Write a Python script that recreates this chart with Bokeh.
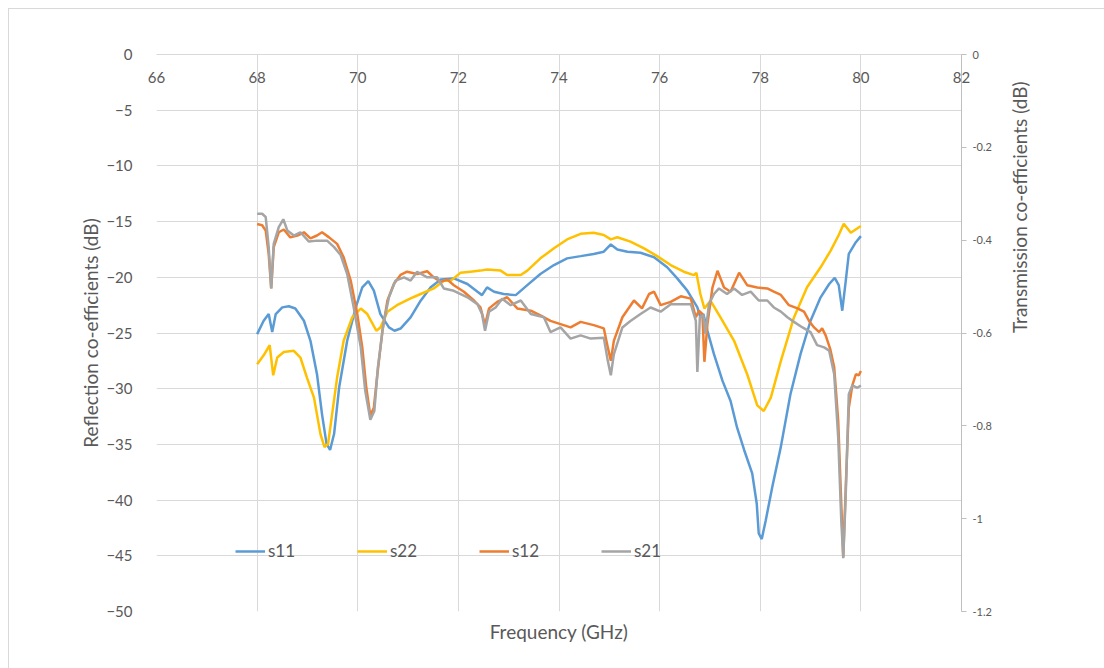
import math
from bokeh.plotting import figure
from bokeh.models import LinearAxis, Range1d, FixedTicker, Legend, LegendItem
from bokeh.embed import file_html
from bokeh.resources import INLINE

# ---------------- data ----------------
x_ticks = [66, 68, 70, 72, 74, 76, 78, 80, 82]
left_ticks = [-50, -45, -40, -35, -30, -25, -20, -15, -10, -5, 0]
right_ticks = [-1.2, -1.0, -0.8, -0.6, -0.4, -0.2, 0.0]
right_tick_labels = ["-1.2", "-1", "-0.8", "-0.6", "-0.4", "-0.2", "0"]

f_s11 = [68.00, 68.13, 68.23, 68.30, 68.37, 68.50, 68.63, 68.76, 68.93, 69.06,
         69.19, 69.29, 69.38, 69.45, 69.53, 69.63, 69.79, 69.96, 70.09, 70.21,
         70.32, 70.45, 70.62, 70.73, 70.85, 71.05, 71.25, 71.45, 71.65, 71.91,
         72.18, 72.38, 72.47, 72.57, 72.71, 72.90, 73.14, 73.37, 73.63, 73.90,
         74.16, 74.43, 74.69, 74.89, 75.03, 75.16, 75.36, 75.62, 75.89, 76.15,
         76.35, 76.55, 76.75, 76.81, 76.87, 76.95, 77.08, 77.25, 77.41, 77.54,
         77.68, 77.84, 77.93, 77.97, 78.03, 78.11, 78.24, 78.41, 78.60, 78.80,
         79.00, 79.20, 79.37, 79.48, 79.56, 79.63, 79.70, 79.76, 79.90, 80.00]
s11 = [-25.1, -23.9, -23.3, -24.9, -23.3, -22.7, -22.6, -22.8, -23.9, -25.7,
       -28.7, -32.3, -34.95, -35.5, -34.05, -29.9, -25.7, -22.7, -20.9, -20.35,
       -21.2, -23.3, -24.5, -24.8, -24.6, -23.6, -22.1, -20.9, -20.2, -20.1,
       -20.6, -21.3, -21.6, -20.9, -21.3, -21.5, -21.6, -20.7, -19.7, -18.9,
       -18.3, -18.1, -17.9, -17.7, -17.05, -17.5, -17.7, -17.8, -18.2, -19.1,
       -20.1, -21.2, -22.7, -23.6, -23.3, -24.8, -26.9, -29.3, -31.1, -33.5,
       -35.5, -37.6, -40.3, -43.0, -43.5, -41.8, -38.8, -35.2, -30.5, -26.9,
       -23.9, -21.8, -20.6, -20.05, -20.7, -23.0, -20.3, -17.9, -16.85, -16.3]

f_s22 = [68.00, 68.13, 68.25, 68.32, 68.40, 68.53, 68.73, 68.86, 68.99, 69.13,
         69.26, 69.34, 69.41, 69.49, 69.59, 69.72, 69.89, 70.06, 70.19, 70.37,
         70.45, 70.59, 70.78, 71.05, 71.25, 71.51, 71.71, 71.85, 72.04, 72.24,
         72.44, 72.57, 72.84, 72.97, 73.24, 73.37, 73.63, 73.90, 74.16, 74.43,
         74.69, 74.89, 75.03, 75.16, 75.42, 75.69, 75.95, 76.22, 76.48, 76.68,
         76.73, 76.81, 76.89, 77.01, 77.21, 77.48, 77.74, 77.94, 78.07, 78.21,
         78.41, 78.67, 78.93, 79.20, 79.40, 79.56, 79.66, 79.80, 80.00]
s22 = [-27.8, -27.0, -26.1, -28.8, -27.2, -26.7, -26.6, -27.2, -29.0, -30.8,
       -34.1, -35.25, -34.95, -32.3, -29.0, -25.7, -23.6, -22.8, -23.3, -24.8,
       -24.5, -23.1, -22.5, -21.9, -21.5, -21.0, -20.3, -20.3, -19.6, -19.5,
       -19.4, -19.3, -19.4, -19.8, -19.8, -19.4, -18.3, -17.4, -16.6, -16.1,
       -16.0, -16.2, -16.6, -16.4, -16.8, -17.4, -18.1, -18.9, -19.5, -19.8,
       -19.6, -21.5, -22.8, -22.1, -23.6, -25.7, -28.7, -31.5, -32.0, -30.8,
       -27.5, -23.6, -20.9, -19.1, -17.6, -16.2, -15.2, -16.0, -15.4]

f_s12 = [68.00, 68.10, 68.17, 68.23, 68.28, 68.33, 68.43, 68.53, 68.66, 68.80,
         68.93, 69.06, 69.19, 69.29, 69.43, 69.59, 69.72, 69.86, 69.99, 70.09,
         70.17, 70.25, 70.32, 70.39, 70.49, 70.59, 70.72, 70.85, 70.98, 71.18,
         71.38, 71.51, 71.65, 71.78, 71.91, 72.11, 72.31, 72.44, 72.53, 72.61,
         72.77, 72.97, 73.17, 73.44, 73.63, 73.83, 74.03, 74.23, 74.43, 74.69,
         74.89, 74.97, 75.03, 75.09, 75.26, 75.49, 75.65, 75.79, 75.89, 76.02,
         76.22, 76.42, 76.62, 76.72, 76.78, 76.85, 76.89, 76.95, 77.05, 77.15,
         77.28, 77.41, 77.58, 77.74, 77.94, 78.14, 78.27, 78.41, 78.57, 78.74,
         78.87, 78.97, 79.07, 79.17, 79.23, 79.30, 79.39, 79.47, 79.55, 79.61,
         79.65, 79.70, 79.76, 79.83, 79.90, 79.96, 80.00]
s12 = [-0.365, -0.368, -0.379, -0.430, -0.504, -0.415, -0.383, -0.377, -0.394, -0.390,
       -0.383, -0.396, -0.390, -0.383, -0.394, -0.408, -0.437, -0.487, -0.559, -0.631,
       -0.718, -0.778, -0.761, -0.689, -0.595, -0.530, -0.494, -0.475, -0.468, -0.473,
       -0.467, -0.480, -0.490, -0.485, -0.497, -0.511, -0.530, -0.545, -0.583, -0.547,
       -0.533, -0.523, -0.547, -0.552, -0.562, -0.574, -0.581, -0.588, -0.576, -0.583,
       -0.590, -0.631, -0.660, -0.617, -0.566, -0.530, -0.547, -0.516, -0.511, -0.540,
       -0.533, -0.521, -0.526, -0.566, -0.552, -0.559, -0.662, -0.581, -0.502, -0.466,
       -0.502, -0.511, -0.470, -0.497, -0.502, -0.504, -0.511, -0.518, -0.540, -0.547,
       -0.554, -0.574, -0.588, -0.598, -0.590, -0.605, -0.634, -0.674, -0.790, -0.967,
       -1.082, -0.931, -0.761, -0.713, -0.689, -0.691, -0.682]

f_s21 = [68.00, 68.10, 68.17, 68.23, 68.28, 68.33, 68.43, 68.52, 68.60, 68.73,
         68.86, 69.03, 69.19, 69.39, 69.53, 69.66, 69.79, 69.92, 70.06, 70.15,
         70.25, 70.33, 70.40, 70.51, 70.62, 70.75, 70.92, 71.05, 71.18, 71.38,
         71.58, 71.71, 71.91, 72.18, 72.38, 72.47, 72.53, 72.61, 72.74, 72.87,
         73.04, 73.24, 73.44, 73.70, 73.83, 74.03, 74.23, 74.43, 74.63, 74.89,
         74.97, 75.03, 75.09, 75.26, 75.42, 75.62, 75.82, 76.02, 76.22, 76.42,
         76.62, 76.72, 76.75, 76.80, 76.87, 76.91, 76.98, 77.08, 77.18, 77.34,
         77.48, 77.64, 77.81, 77.97, 78.14, 78.27, 78.41, 78.54, 78.67, 78.84,
         79.00, 79.13, 79.27, 79.37, 79.47, 79.55, 79.61, 79.65, 79.70, 79.76,
         79.83, 79.93, 80.00]
s21 = [-0.343, -0.343, -0.350, -0.415, -0.504, -0.408, -0.372, -0.355, -0.379, -0.390,
       -0.383, -0.403, -0.401, -0.401, -0.415, -0.432, -0.473, -0.545, -0.631, -0.725,
       -0.787, -0.768, -0.674, -0.581, -0.523, -0.487, -0.480, -0.487, -0.468, -0.480,
       -0.480, -0.504, -0.509, -0.523, -0.538, -0.559, -0.595, -0.554, -0.545, -0.526,
       -0.540, -0.530, -0.559, -0.566, -0.598, -0.588, -0.612, -0.605, -0.612, -0.610,
       -0.660, -0.691, -0.646, -0.588, -0.574, -0.559, -0.545, -0.554, -0.538, -0.538,
       -0.538, -0.574, -0.684, -0.566, -0.562, -0.602, -0.538, -0.516, -0.504, -0.516,
       -0.504, -0.518, -0.511, -0.530, -0.530, -0.545, -0.554, -0.566, -0.576, -0.588,
       -0.598, -0.626, -0.631, -0.638, -0.689, -0.826, -1.003, -1.085, -0.946, -0.732,
       -0.713, -0.718, -0.713]

# ---------------- styling ----------------
FONT = "Lato"
TXT = "#595959"
GRID = "#d9d9d9"

p = figure(width=1104, height=668, output_backend="svg", toolbar_location=None,
           x_range=Range1d(66, 82), y_range=Range1d(-50, 0),
           x_axis_location="above",
           min_border_left=156, min_border_right=143,
           min_border_top=54, min_border_bottom=57)
p.extra_y_ranges = {"trans": Range1d(-1.2, 0)}
p.outline_line_color = None
p.background_fill_color = "white"
p.border_fill_alpha = 0
# outer chart frame (top and left edges are the only ones inside the window)
p.styles = {
    "background-color": "white",
    "background-image": "linear-gradient(#d9d9d9, #d9d9d9), linear-gradient(#d9d9d9, #d9d9d9)",
    "background-size": "1096px 1px, 1px 660px",
    "background-position": "8px 8px, 8px 8px",
    "background-repeat": "no-repeat",
}

# grids
p.xgrid.ticker = FixedTicker(ticks=x_ticks)
p.ygrid.ticker = FixedTicker(ticks=left_ticks)
for g in (p.xgrid[0], p.ygrid[0]):
    g.grid_line_color = GRID
    g.grid_line_width = 1

# x axis crossing at 0: labels sit just under the top line
xa = p.xaxis[0]
xa.ticker = FixedTicker(ticks=x_ticks)
xa.axis_line_color = GRID
xa.major_tick_line_color = None
xa.minor_tick_line_color = None
xa.major_label_standoff = -34
xa.major_label_text_font = FONT
xa.major_label_text_font_size = "15px"
xa.major_label_text_color = TXT

# x axis title at bottom
xt = LinearAxis(axis_label="Frequency (GHz)", ticker=FixedTicker(ticks=[]),
                axis_line_color=None, major_tick_line_color=None,
                minor_tick_line_color=None, major_label_text_font_size="0px",
                axis_label_standoff=8, axis_label_text_font=FONT,
                axis_label_text_font_size="19px", axis_label_text_color=TXT,
                axis_label_text_font_style="normal")
p.add_layout(xt, "below")

# left axis
ya = p.yaxis[0]
ya.ticker = FixedTicker(ticks=left_ticks)
ya.axis_line_color = None
ya.major_tick_line_color = None
ya.minor_tick_line_color = None
ya.major_label_standoff = 18
ya.major_label_text_font = FONT
ya.major_label_text_font_size = "15px"
ya.major_label_text_color = TXT
ya.axis_label = "Reflection co-efficients (dB)"
ya.axis_label_text_font = FONT
ya.axis_label_text_font_size = "19px"
ya.axis_label_text_color = TXT
ya.axis_label_text_font_style = "normal"
ya.axis_label_standoff = 1

# right axis
ra = LinearAxis(y_range_name="trans", ticker=FixedTicker(ticks=right_ticks),
                major_label_overrides=dict(zip(right_ticks, right_tick_labels)),
                axis_line_color="#bfbfbf", major_tick_line_color="#bfbfbf",
                major_tick_out=5, major_tick_in=0, minor_tick_line_color=None,
                major_label_standoff=6, major_label_text_font=FONT,
                major_label_text_font_size="11px", major_label_text_color=TXT,
                axis_label="Transmission co-efficients (dB)",
                axis_label_orientation=math.pi / 2,
                axis_label_text_font=FONT, axis_label_text_font_size="19px",
                axis_label_text_color=TXT, axis_label_text_font_style="normal",
                axis_label_standoff=25)
p.add_layout(ra, "right")

# lines
r11 = p.line(f_s11, s11, line_color="#5B9BD5", line_width=2.5)
r22 = p.line(f_s22, s22, line_color="#FFC000", line_width=2.5)
r12 = p.line(f_s12, s12, line_color="#ED7D31", line_width=2.5, y_range_name="trans")
r21 = p.line(f_s21, s21, line_color="#A5A5A5", line_width=2.5, y_range_name="trans")

legend = Legend(items=[LegendItem(label="s11", renderers=[r11]),
                       LegendItem(label="s22", renderers=[r22]),
                       LegendItem(label="s12", renderers=[r12]),
                       LegendItem(label="s21", renderers=[r21])],
                orientation="horizontal", location=(79, 50),
                glyph_width=30, glyph_height=20, label_standoff=3,
                label_width=80, spacing=9, padding=0, margin=0,
                border_line_color=None, background_fill_alpha=0,
                label_text_font=FONT, label_text_font_size="17px",
                label_text_color=TXT)
p.add_layout(legend, "center")

open("out.html", "w").write(file_html(p, INLINE))
